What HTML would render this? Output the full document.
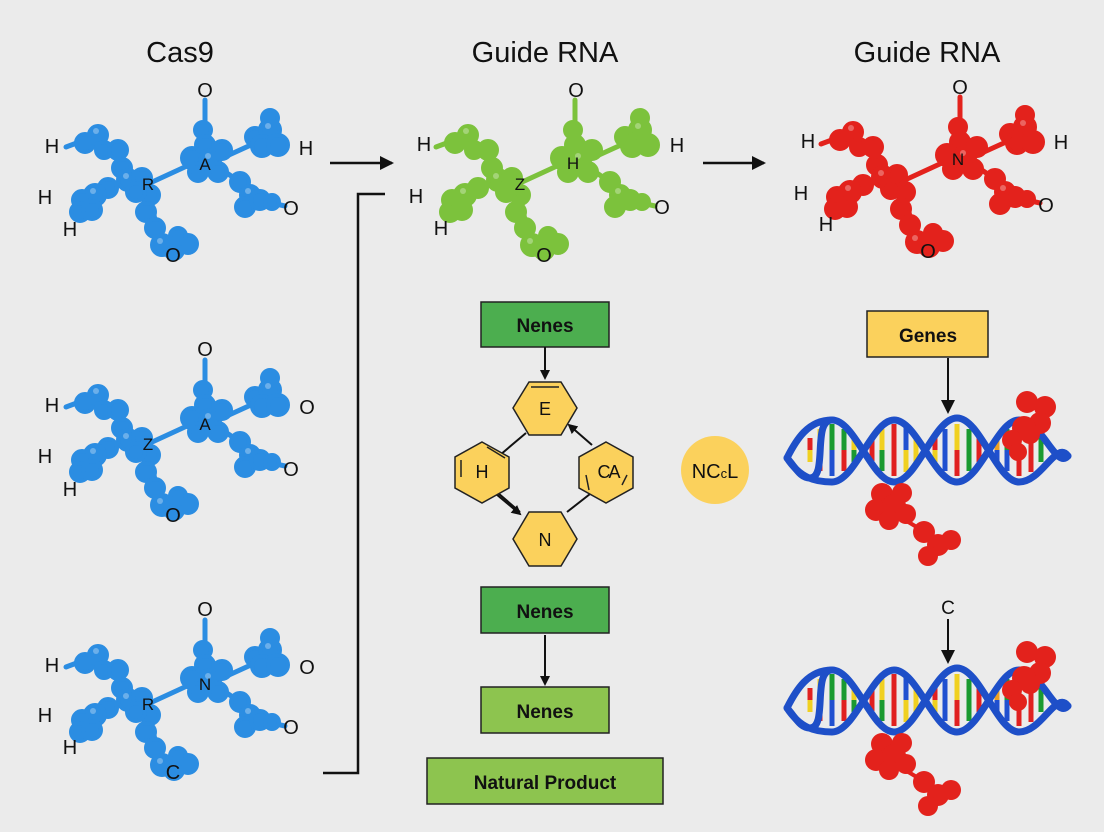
<!DOCTYPE html>
<html><head><meta charset="utf-8"><style>
html,body{margin:0;padding:0;background:#ebebeb;}
svg{display:block;}
text{font-family:"Liberation Sans",sans-serif;}
</style></head><body>
<svg width="1104" height="832" viewBox="0 0 1104 832" xmlns="http://www.w3.org/2000/svg">
<defs>
<marker id="ah" markerWidth="10" markerHeight="10" refX="8" refY="5" orient="auto" markerUnits="userSpaceOnUse">
<path d="M0,0 L10,5 L0,10 z" fill="#111"/></marker>
<marker id="ah2" markerWidth="14" markerHeight="14" refX="12" refY="7" orient="auto" markerUnits="userSpaceOnUse">
<path d="M0,0 L14,7 L0,14 z" fill="#111"/></marker>
<g id="mol">
 <g stroke-width="5" stroke-linecap="round">
  <line x1="66" y1="147" x2="98" y2="135"/>
  <line x1="122" y1="168" x2="142" y2="178"/>
  <line x1="150" y1="183" x2="200" y2="160"/>
  <line x1="205" y1="100" x2="205" y2="145"/>
  <line x1="218" y1="160" x2="262" y2="140"/>
  <line x1="215" y1="165" x2="240" y2="182"/>
  <line x1="258" y1="200" x2="285" y2="206"/>
  <line x1="150" y1="195" x2="160" y2="245"/>
  <line x1="108" y1="188" x2="128" y2="180"/>
 </g>
 <g stroke-width="4">
  <circle cx="85" cy="143" r="9"/><circle cx="98" cy="135" r="9"/><circle cx="104" cy="150" r="8"/><circle cx="118" cy="150" r="9"/><circle cx="122" cy="168" r="9"/>
  <circle cx="128" cy="180" r="10"/><circle cx="142" cy="178" r="9"/><circle cx="150" cy="195" r="9"/><circle cx="136" cy="192" r="9"/>
  <circle cx="108" cy="188" r="9"/><circle cx="95" cy="195" r="10"/><circle cx="82" cy="200" r="9"/><circle cx="80" cy="212" r="9"/><circle cx="92" cy="210" r="9"/>
  <circle cx="146" cy="212" r="9"/><circle cx="155" cy="228" r="9"/><circle cx="162" cy="245" r="10"/><circle cx="174" cy="250" r="9"/><circle cx="188" cy="244" r="9"/><circle cx="178" cy="236" r="8"/>
  <circle cx="203" cy="130" r="8"/><circle cx="205" cy="145" r="9"/><circle cx="192" cy="158" r="10"/><circle cx="210" cy="160" r="10"/><circle cx="222" cy="150" r="9"/><circle cx="218" cy="172" r="9"/><circle cx="198" cy="172" r="9"/>
  <circle cx="255" cy="137" r="9"/><circle cx="270" cy="130" r="10"/><circle cx="262" cy="146" r="10"/><circle cx="278" cy="145" r="10"/><circle cx="270" cy="118" r="8"/>
  <circle cx="240" cy="182" r="9"/><circle cx="250" cy="195" r="9"/><circle cx="245" cy="207" r="9"/><circle cx="260" cy="200" r="9"/><circle cx="272" cy="202" r="7"/>
 </g>
 <g fill="#fff" opacity="0.3" stroke="none">
  <circle cx="96" cy="131" r="3"/><circle cx="126" cy="176" r="3"/><circle cx="208" cy="156" r="3"/><circle cx="268" cy="126" r="3"/><circle cx="160" cy="241" r="3"/><circle cx="93" cy="191" r="3"/><circle cx="248" cy="191" r="3"/>
 </g>
</g>
<g id="dna">
 <g stroke-width="5">
  <line x1="810" y1="438" x2="810" y2="450" stroke="#e02020"/><line x1="810" y1="450" x2="810" y2="462" stroke="#f0d020"/>
  <line x1="820" y1="429" x2="820" y2="450" stroke="#f0d020"/><line x1="820" y1="450" x2="820" y2="471" stroke="#e02020"/>
  <line x1="832" y1="424" x2="832" y2="450" stroke="#1a9a30"/><line x1="832" y1="450" x2="832" y2="476" stroke="#2050d0"/>
  <line x1="844" y1="429" x2="844" y2="450" stroke="#1a9a30"/><line x1="844" y1="450" x2="844" y2="471" stroke="#e02020"/>
  <line x1="854" y1="438" x2="854" y2="450" stroke="#f0d020"/><line x1="854" y1="450" x2="854" y2="462" stroke="#1a9a30"/>
  <line x1="872" y1="439" x2="872" y2="450" stroke="#e02020"/><line x1="872" y1="450" x2="872" y2="461" stroke="#e02020"/>
  <line x1="882" y1="429" x2="882" y2="450" stroke="#f0d020"/><line x1="882" y1="450" x2="882" y2="471" stroke="#1a9a30"/>
  <line x1="894" y1="424" x2="894" y2="450" stroke="#e02020"/><line x1="894" y1="450" x2="894" y2="476" stroke="#e02020"/>
  <line x1="906" y1="428" x2="906" y2="450" stroke="#2050d0"/><line x1="906" y1="450" x2="906" y2="472" stroke="#f0d020"/>
  <line x1="916" y1="438" x2="916" y2="450" stroke="#f0d020"/><line x1="916" y1="450" x2="916" y2="462" stroke="#f0d020"/>
  <line x1="935" y1="438" x2="935" y2="450" stroke="#e02020"/><line x1="935" y1="450" x2="935" y2="462" stroke="#f0d020"/>
  <line x1="945" y1="429" x2="945" y2="450" stroke="#2050d0"/><line x1="945" y1="450" x2="945" y2="471" stroke="#2050d0"/>
  <line x1="957" y1="424" x2="957" y2="450" stroke="#f0d020"/><line x1="957" y1="450" x2="957" y2="476" stroke="#e02020"/>
  <line x1="969" y1="429" x2="969" y2="450" stroke="#1a9a30"/><line x1="969" y1="450" x2="969" y2="471" stroke="#1a9a30"/>
  <line x1="979" y1="438" x2="979" y2="450" stroke="#e02020"/><line x1="979" y1="450" x2="979" y2="462" stroke="#e02020"/>
  <line x1="997" y1="439" x2="997" y2="450" stroke="#f0a020"/><line x1="997" y1="450" x2="997" y2="461" stroke="#2050d0"/>
  <line x1="1007" y1="429" x2="1007" y2="450" stroke="#1a9a30"/><line x1="1007" y1="450" x2="1007" y2="471" stroke="#2050d0"/>
  <line x1="1019" y1="424" x2="1019" y2="450" stroke="#2050d0"/><line x1="1019" y1="450" x2="1019" y2="476" stroke="#e02020"/>
  <line x1="1031" y1="428" x2="1031" y2="450" stroke="#e02020"/><line x1="1031" y1="450" x2="1031" y2="472" stroke="#e02020"/>
  <line x1="1041" y1="438" x2="1041" y2="450" stroke="#1a9a30"/><line x1="1041" y1="450" x2="1041" y2="462" stroke="#1a9a30"/>
 </g>
 <g fill="none" stroke="#1e4fc8" stroke-width="7" stroke-linecap="round">
  <path d="M787,458 C796,468 800,478 810,478 C828,478 812,420 832,420 C855,420 872,482 894,482 C917,482 934,418 957,418 C980,418 997,482 1019,482 C1042,482 1056,440 1068,456"/>
 </g>
</g>
</defs>

<text x="180" y="62" font-size="29" text-anchor="middle" fill="#111">Cas9</text>
<text x="545" y="62" font-size="29" text-anchor="middle" fill="#111">Guide RNA</text>
<text x="927" y="62" font-size="29" text-anchor="middle" fill="#111">Guide RNA</text>

<use href="#mol" fill="#2b8de2" stroke="#2b8de2"/>
<use href="#mol" fill="#2b8de2" stroke="#2b8de2" transform="translate(0,260)"/>
<use href="#mol" fill="#2b8de2" stroke="#2b8de2" transform="translate(0,520)"/>
<use href="#mol" fill="#7cc23c" stroke="#7cc23c" transform="translate(370,0)"/>
<use href="#mol" fill="#e3221c" stroke="#e3221c" transform="translate(755,-3)"/>

<g font-size="20" fill="#111" text-anchor="middle">
 <text x="205" y="97">O</text><text x="52" y="153">H</text><text x="306" y="155">H</text><text x="45" y="204">H</text><text x="291" y="215">O</text><text x="70" y="236">H</text><text x="173" y="262">O</text><text x="148" y="190" font-size="17">R</text><text x="205" y="170" font-size="17">A</text>
 <text x="205" y="356">O</text><text x="52" y="412">H</text><text x="307" y="414">O</text><text x="45" y="463">H</text><text x="291" y="476">O</text><text x="70" y="496">H</text><text x="173" y="522">O</text><text x="148" y="450" font-size="17">Z</text><text x="205" y="430" font-size="17">A</text>
 <text x="205" y="616">O</text><text x="52" y="672">H</text><text x="307" y="674">O</text><text x="45" y="722">H</text><text x="291" y="734">O</text><text x="70" y="754">H</text><text x="173" y="779">C</text><text x="148" y="710" font-size="17">R</text><text x="205" y="690" font-size="17">N</text>
 <text x="576" y="97">O</text><text x="424" y="151">H</text><text x="677" y="152">H</text><text x="416" y="203">H</text><text x="662" y="214">O</text><text x="441" y="235">H</text><text x="544" y="262">O</text><text x="520" y="190" font-size="17">Z</text><text x="573" y="169" font-size="17">H</text>
 <text x="960" y="94">O</text><text x="808" y="148">H</text><text x="1061" y="149">H</text><text x="801" y="200">H</text><text x="1046" y="212">O</text><text x="826" y="231">H</text><text x="928" y="258">O</text><text x="958" y="165" font-size="17">N</text>
</g>

<line x1="330" y1="163" x2="392" y2="163" stroke="#111" stroke-width="2.5" marker-end="url(#ah2)"/>
<line x1="703" y1="163" x2="764" y2="163" stroke="#111" stroke-width="2.5" marker-end="url(#ah2)"/>
<polyline points="385,194 358,194 358,773 323,773" fill="none" stroke="#111" stroke-width="2.5"/>

<rect x="481" y="302" width="128" height="45" fill="#4cae4f" stroke="#222" stroke-width="1.5"/>
<text x="545" y="332" font-size="19" font-weight="bold" text-anchor="middle" fill="#111">Nenes</text>
<line x1="545" y1="347" x2="545" y2="378" stroke="#111" stroke-width="2" marker-end="url(#ah)"/>

<g stroke="#111" stroke-width="2">
 <line x1="526" y1="433" x2="500" y2="455"/>
 <line x1="520" y1="512" x2="498" y2="493"/>
 <line x1="567" y1="512" x2="590" y2="494"/>
 <line x1="592" y1="445" x2="569" y2="425" marker-end="url(#ah)"/>
 <line x1="496" y1="494" x2="520" y2="514" marker-end="url(#ah)"/>
</g>
<g fill="#fbd15c" stroke="#222" stroke-width="1.5">
 <polygon points="529,382 561,382 577,408 561,435 529,435 513,408"/>
 <polygon points="482,442 509,457 509,488 482,503 455,488 455,457"/>
 <polygon points="606,442 633,457 633,488 606,503 579,488 579,457"/>
 <polygon points="529,512 561,512 577,539 561,566 529,566 513,539"/>
</g>
<g stroke="#222" stroke-width="1.5"><line x1="531" y1="387" x2="559" y2="387"/><line x1="461" y1="460" x2="461" y2="477"/><line x1="487" y1="447" x2="505" y2="458"/><line x1="586" y1="475" x2="589" y2="490"/><line x1="627" y1="475" x2="622" y2="485"/></g>
<g font-size="18" text-anchor="middle" fill="#111">
 <text x="545" y="415">E</text><text x="482" y="478">H</text><text x="608" y="478" letter-spacing="-2">CA</text><text x="545" y="546">N</text>
</g>
<circle cx="715" cy="470" r="34" fill="#fbd15c"/>
<text x="715" y="478" font-size="20" text-anchor="middle" fill="#111">NC<tspan font-size="13">c</tspan>L</text>

<rect x="481" y="587" width="128" height="46" fill="#4cae4f" stroke="#222" stroke-width="1.5"/>
<text x="545" y="618" font-size="19" font-weight="bold" text-anchor="middle" fill="#111">Nenes</text>
<line x1="545" y1="635" x2="545" y2="684" stroke="#111" stroke-width="2" marker-end="url(#ah)"/>
<rect x="481" y="687" width="128" height="46" fill="#8dc44f" stroke="#222" stroke-width="1.5"/>
<text x="545" y="718" font-size="19" font-weight="bold" text-anchor="middle" fill="#111">Nenes</text>
<rect x="427" y="758" width="236" height="46" fill="#8dc44f" stroke="#222" stroke-width="1.5"/>
<text x="545" y="789" font-size="19" font-weight="bold" text-anchor="middle" fill="#111">Natural Product</text>

<rect x="867" y="311" width="121" height="46" fill="#fbd15c" stroke="#222" stroke-width="1.5"/>
<text x="928" y="342" font-size="19" font-weight="bold" text-anchor="middle" fill="#111">Genes</text>
<line x1="948" y1="358" x2="948" y2="412" stroke="#111" stroke-width="2" marker-end="url(#ah2)"/>
<text x="948" y="614" font-size="19" text-anchor="middle" fill="#111">C</text>
<line x1="948" y1="619" x2="948" y2="662" stroke="#111" stroke-width="2" marker-end="url(#ah2)"/>

<g id="dnaA">
<use href="#dna"/>
<path d="M787,458 C796,440 808,420 832,420 M832,482 C855,482 872,420 894,420 C917,420 934,482 957,482 C980,482 997,420 1019,420 C1042,420 1056,470 1068,456 M787,458 C800,478 815,482 832,482" fill="none" stroke="#1e4fc8" stroke-width="7" stroke-linecap="round"/>
<g fill="#e3221c">
 <circle cx="1027" cy="402" r="11"/><circle cx="1045" cy="407" r="11"/><circle cx="1040" cy="423" r="11"/><circle cx="1024" cy="428" r="12"/><circle cx="1012" cy="440" r="10"/><circle cx="1018" cy="452" r="9"/><circle cx="1030" cy="434" r="10"/>
 <circle cx="882" cy="494" r="11"/><circle cx="876" cy="510" r="11"/><circle cx="894" cy="506" r="12"/><circle cx="889" cy="520" r="10"/><circle cx="906" cy="514" r="10"/><circle cx="902" cy="493" r="10"/>
 <line x1="905" y1="520" x2="925" y2="532" stroke="#e3221c" stroke-width="4"/>
 <circle cx="924" cy="532" r="11"/><circle cx="938" cy="545" r="11"/><circle cx="928" cy="556" r="10"/><circle cx="951" cy="540" r="10"/>
</g>
</g>
<use href="#dnaA" transform="translate(0,250)"/>
</svg>
</body></html>
